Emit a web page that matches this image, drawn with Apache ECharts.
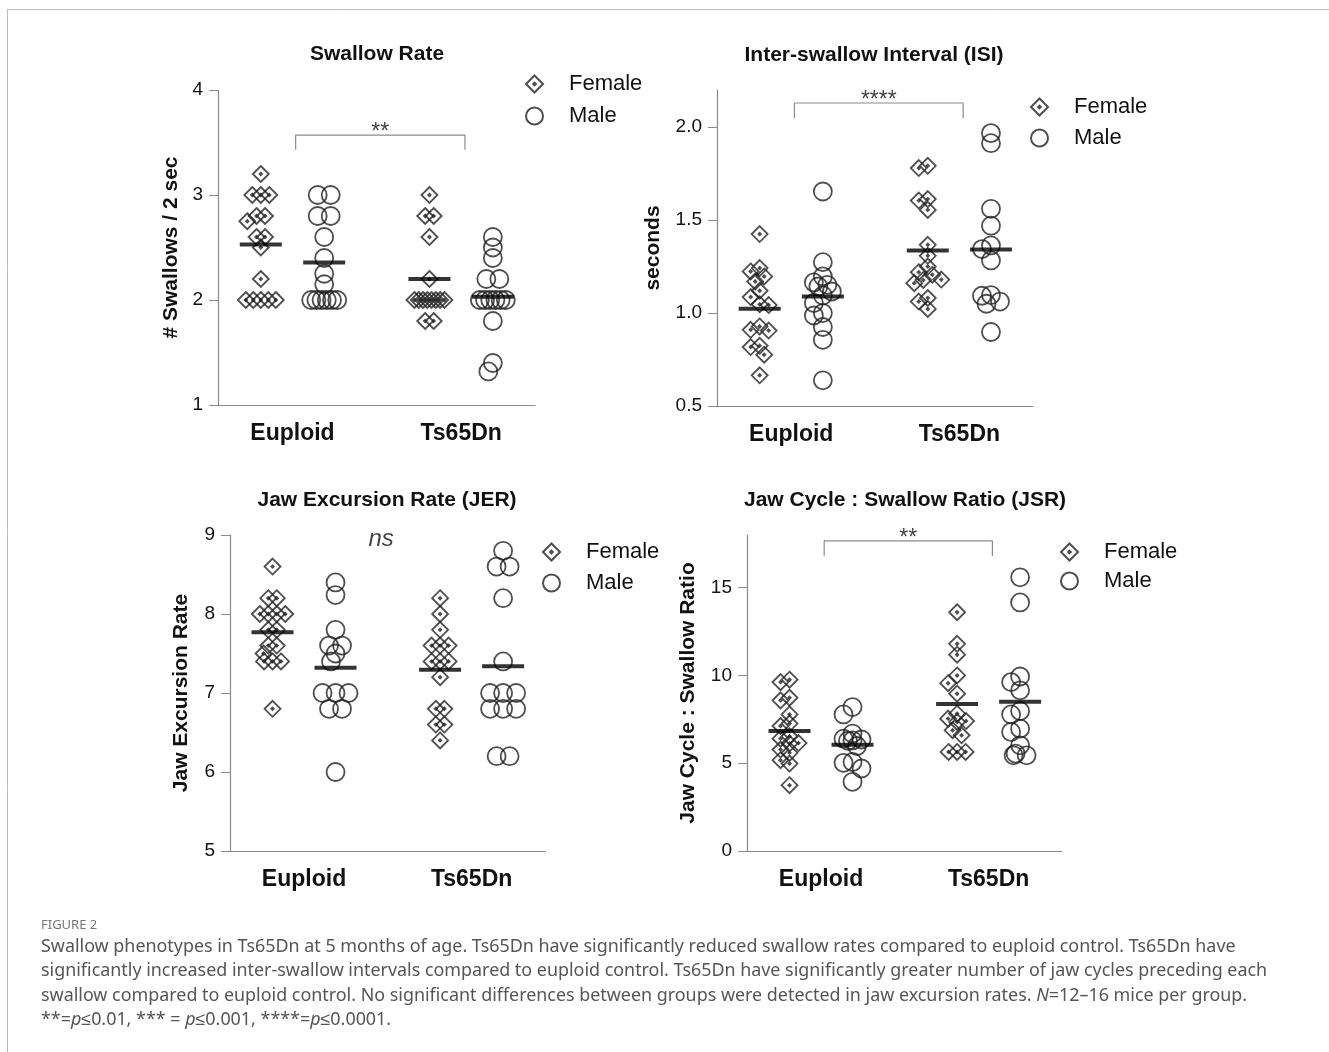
<!DOCTYPE html>
<html>
<head>
<meta charset="utf-8">
<script src="https://cdn.jsdelivr.net/npm/echarts@6/dist/echarts.min.js"></script>
<style>
  html, body { margin: 0; padding: 0; background: #fff; }
  #fig { width: 1329px; height: 1052px; }
</style>
</head>
<body>
<div id="fig"></div>
<script>
// groups shown on every x axis
var groups = ['Euploid', 'Ts65Dn'];

// Swallow Rate (# swallows / 2 sec)
var rateEuF = [3.2, 3.0, 3.0, 3.0, 2.8, 2.8, 2.75, 2.6, 2.6, 2.5, 2.2, 2.0, 2.0, 2.0, 2.0, 2.0];
var rateEuM = [3.0, 3.0, 2.8, 2.8, 2.6, 2.4, 2.25, 2.15, 2.0, 2.0, 2.0, 2.0, 2.0, 2.0];
var rateTsF = [3.0, 2.8, 2.8, 2.6, 2.2, 2.0, 2.0, 2.0, 2.0, 2.0, 2.0, 2.0, 2.0, 1.8, 1.8];
var rateTsM = [2.6, 2.5, 2.4, 2.2, 2.2, 2.0, 2.0, 2.0, 2.0, 2.0, 2.0, 1.8, 1.4, 1.32];
var rateTicks = [1, 2, 3, 4];

// Inter-swallow interval (seconds)
var isiEuF = [1.425, 1.242, 1.224, 1.197, 1.17, 1.12, 1.086, 1.047, 1.043, 0.928, 0.91, 0.906, 0.824, 0.817, 0.776, 0.665];
var isiEuM = [1.654, 1.274, 1.197, 1.165, 1.152, 1.143, 1.116, 1.095, 1.054, 1.0, 0.987, 0.925, 0.856, 0.638];
var isiTsF = [1.792, 1.78, 1.613, 1.605, 1.555, 1.367, 1.308, 1.25, 1.22, 1.206, 1.18, 1.178, 1.161, 1.081, 1.062, 1.022];
var isiTsM = [1.968, 1.914, 1.561, 1.47, 1.364, 1.344, 1.283, 1.097, 1.093, 1.062, 1.05, 0.898];
var isiTicks = [0.5, 1.0, 1.5, 2.0];

// Jaw excursion rate
var jerEuF = [8.6, 8.2, 8.2, 8.0, 8.0, 8.0, 8.0, 7.8, 7.8, 7.6, 7.6, 7.5, 7.4, 7.4, 7.4, 6.8];
var jerEuM = [8.4, 8.24, 7.8, 7.6, 7.6, 7.5, 7.4, 7.0, 7.0, 7.0, 6.8, 6.8, 6.0];
var jerTsF = [8.2, 8.0, 7.8, 7.6, 7.6, 7.6, 7.4, 7.4, 7.4, 7.2, 6.8, 6.8, 6.6, 6.6, 6.4];
var jerTsM = [8.8, 8.6, 8.6, 8.2, 7.4, 7.0, 7.0, 7.0, 6.8, 6.8, 6.8, 6.2, 6.2];
var jerTicks = [5, 6, 7, 8, 9];

// Jaw cycle : swallow ratio
var jsrEuF = [9.76, 9.62, 8.73, 8.58, 7.78, 7.26, 7.12, 6.53, 6.4, 6.15, 6.12, 5.78, 5.59, 5.17, 4.98, 3.75];
var jsrEuM = [8.2, 7.78, 6.69, 6.4, 6.35, 6.3, 6.28, 5.98, 5.07, 5.02, 4.7, 3.94];
var jsrTsF = [13.6, 11.8, 11.18, 10.0, 9.56, 8.96, 7.82, 7.54, 7.4, 7.35, 6.88, 6.59, 5.64, 5.64, 5.64];
var jsrTsM = [15.59, 14.16, 9.94, 9.62, 9.15, 7.97, 7.78, 6.97, 6.78, 6.02, 5.55, 5.45, 5.45];
var jsrTicks = [0, 5, 10, 15];

// layout of the four columns on a 0..10 x axis
var colPos = [1.35, 3.35, 6.67, 8.67];
var labelPos = [2.35, 7.67];
var INK = '#222';
// outlined diamond with a dot in the middle (stroked, not filled)
var DIAMOND = 'path://M0,-10L10,0L0,10L-10,0Z M-1.5,0L0,-1.5L1.5,0L0,1.5Z';

var panels = [
    { title: 'Swallow Rate', tx: 377, ty: 54, yName: '# Swallows / 2 sec', gap: 36,
      box: [218, 90, 317, 315], min: 1, max: 4, ticks: rateTicks, dec: 0,
      data: [rateEuF, rateEuM, rateTsF, rateTsM],
      sig: { text: '**', top: 3.57, drop: 0.14 }, legend: [525, 73, 10] },
    { title: 'Inter-swallow Interval (ISI)', tx: 874, ty: 55, yName: 'seconds', gap: 53,
      box: [717, 90, 316, 316], min: 0.5, max: 2.2, ticks: isiTicks, dec: 1,
      data: [isiEuF, isiEuM, isiTsF, isiTsM],
      sig: { text: '****', top: 2.13, drop: 0.08 }, legend: [1030, 96, 9] },
    { title: 'Jaw Excursion Rate (JER)', tx: 387, ty: 500, yName: 'Jaw Excursion Rate', gap: 38,
      box: [230, 535, 315, 316], min: 5, max: 9, ticks: jerTicks, dec: 0,
      data: [jerEuF, jerEuM, jerTsF, jerTsM],
      ns: { x: 4.8, y: 8.94 }, legend: [542, 541, 9] },
    { title: 'Jaw Cycle : Swallow Ratio (JSR)', tx: 905, ty: 500, yName: 'Jaw Cycle : Swallow Ratio', gap: 48,
      box: [747, 535, 315, 316], min: 0, max: 18, ticks: jsrTicks, dec: 0,
      data: [jsrEuF, jsrEuM, jsrTsF, jsrTsM],
      sig: { text: '**', top: 17.66, drop: 0.85 }, legend: [1060, 541, 7] }
];

function mean(a) {
    var s = 0;
    a.forEach(function (v) { s += v; });
    return s / a.length;
}

// simple beeswarm: tied values share a centred row, others find the nearest free slot
function swarm(vals, pxY, o) {
    var idx = vals.map(function (v, i) { return i; });
    idx.sort(function (a, b) { return vals[b] - vals[a]; });
    var off = [], placed = [];
    for (var i = 0; i < idx.length;) {
        var j = i;
        while (j + 1 < idx.length && vals[idx[j + 1]] === vals[idx[i]]) j++;
        var n = j - i + 1, y = vals[idx[i]] * pxY;
        if (n > 1) {
            var sp = Math.min(o.row, 2 * o.half / (n - 1));
            for (var k = 0; k < n; k++) {
                var x = (k - (n - 1) / 2) * sp;
                off[idx[i + k]] = x;
                placed.push([x, y]);
            }
        } else {
            var best = 0, bestD = -1, found = false;
            for (var s = 0; s * o.gap / 2 <= o.half + 0.01 && !found; s++) {
                var cands = s ? [-s * o.gap / 2, s * o.gap / 2] : [0];
                for (var c = 0; c < cands.length; c++) {
                    var d = Infinity;
                    for (var q = 0; q < placed.length; q++) {
                        d = Math.min(d, Math.hypot(placed[q][0] - cands[c], placed[q][1] - y));
                    }
                    if (d >= o.gap) { best = cands[c]; found = true; break; }
                    if (d > bestD) { bestD = d; best = cands[c]; }
                }
            }
            off[idx[i]] = best;
            placed.push([best, y]);
        }
        i = j + 1;
    }
    return off;
}

var option = {
    animation: false,
    textStyle: { fontFamily: 'Liberation Sans, Arial, sans-serif' },
    grid: [], xAxis: [], yAxis: [], legend: [], series: [], graphic: []
};

panels.forEach(function (p, i) {
    var b = p.box;
    var pxX = b[2] / 10, pxY = b[3] / (p.max - p.min);
    option.grid.push({ left: b[0], top: b[1], width: b[2], height: b[3], outerBoundsMode: 'none' });
    option.xAxis.push({
        type: 'value', gridIndex: i, min: 0, max: 10,
        axisLine: { lineStyle: { color: '#8a8a8a', width: 1.2 } },
        axisTick: { show: false }, splitLine: { show: false },
        axisLabel: {
            customValues: labelPos, margin: 17,
            fontSize: 23, fontWeight: 'bold', color: '#111',
            formatter: function (v) { return v < 5 ? groups[0] : groups[1]; }
        }
    });
    option.yAxis.push({
        type: 'value', gridIndex: i, min: p.min, max: p.max,
        name: p.yName, nameLocation: 'middle', nameRotate: 90, nameGap: p.gap,
        nameTextStyle: { fontSize: 21, fontWeight: 'bold', color: '#111' },
        axisLine: { show: true, lineStyle: { color: '#8a8a8a', width: 1.2 } },
        axisTick: { show: true, length: 9, customValues: p.ticks, lineStyle: { color: '#8a8a8a' } },
        splitLine: { show: false },
        axisLabel: {
            customValues: p.ticks, margin: 15, fontSize: 19, color: '#111',
            formatter: function (v) { return v.toFixed(p.dec); }
        }
    });

    var fem = [], mal = [], means = [];
    p.data.forEach(function (vals, g) {
        var female = g % 2 === 0;
        var off = swarm(vals, pxY, female ? { row: 8.5, half: 15, gap: 9 } : { row: 13, half: 13, gap: 9 });
        vals.forEach(function (v, k) {
            (female ? fem : mal).push([colPos[g] + off[k] / pxX, v]);
        });
        means.push([colPos[g], mean(vals)]);
    });

    option.series.push({
        name: 'Female', type: 'scatter', xAxisIndex: i, yAxisIndex: i,
        symbol: DIAMOND, symbolSize: 16, data: fem,
        itemStyle: { color: 'rgba(0,0,0,0)', borderColor: INK, borderWidth: 1.8 }, z: 3
    });
    option.series.push({
        name: 'Male', type: 'scatter', xAxisIndex: i, yAxisIndex: i,
        symbol: 'circle', symbolSize: 18, data: mal,
        itemStyle: { color: 'rgba(0,0,0,0)', borderColor: INK, borderWidth: 1.8 }, z: 3
    });
    option.series.push({
        name: 'Mean', type: 'scatter', xAxisIndex: i, yAxisIndex: i,
        symbol: 'rect', symbolSize: [42, 4], data: means,
        itemStyle: { color: '#000' }, z: 5, silent: true
    });

    if (p.sig) {
        var x1 = labelPos[0] + 0.1, x2 = labelPos[1] + 0.12;
        option.series.push({
            type: 'line', xAxisIndex: i, yAxisIndex: i, symbol: 'none', silent: true,
            data: [[x1, p.sig.top - p.sig.drop], [x1, p.sig.top], [x2, p.sig.top], [x2, p.sig.top - p.sig.drop]],
            lineStyle: { color: '#8a8a8a', width: 1.2 }
        });
        option.series.push({
            type: 'scatter', xAxisIndex: i, yAxisIndex: i, symbolSize: 1, silent: true,
            data: [[(x1 + x2) / 2, p.sig.top]], itemStyle: { color: 'rgba(0,0,0,0)' },
            label: { show: true, position: 'top', distance: -10, formatter: p.sig.text, fontSize: 23, color: '#111' }
        });
    }
    if (p.ns) {
        option.series.push({
            type: 'scatter', xAxisIndex: i, yAxisIndex: i, symbolSize: 1, silent: true,
            data: [[p.ns.x, p.ns.y]], itemStyle: { color: 'rgba(0,0,0,0)' },
            label: { show: true, position: 'inside', formatter: 'ns', fontSize: 24, fontStyle: 'italic', color: '#111' }
        });
    }

    option.legend.push({
        data: ['Female', 'Male'], orient: 'vertical', selectedMode: false,
        left: p.legend[0], top: p.legend[1], itemGap: p.legend[2], padding: 0,
        itemWidth: 17, itemHeight: 17,
        textStyle: { fontSize: 22, color: '#111', padding: [0, 0, 0, 21] }
    });

    option.graphic.push({
        type: 'text', x: p.tx, y: p.ty,
        style: { text: p.title, align: 'center', verticalAlign: 'middle',
                 font: 'bold 21px "Liberation Sans", Arial, sans-serif', fill: '#111' }
    });
});

// figure frame and caption
option.graphic.push(
    { type: 'line', shape: { x1: 7, y1: 9.5, x2: 1329, y2: 9.5 }, style: { stroke: '#bbb', lineWidth: 1 } },
    { type: 'line', shape: { x1: 7.5, y1: 9, x2: 7.5, y2: 1052 }, style: { stroke: '#bbb', lineWidth: 1 } },
    { type: 'text', x: 41, y: 925, style: { text: 'FIGURE 2', verticalAlign: 'middle',
        font: '13px "Noto Sans", sans-serif', fill: '#777' } }
);
var caption = [
    'Swallow phenotypes in Ts65Dn at 5 months of age. Ts65Dn have significantly reduced swallow rates compared to euploid control. Ts65Dn have',
    'significantly increased inter-swallow intervals compared to euploid control. Ts65Dn have significantly greater number of jaw cycles preceding each',
    'swallow compared to euploid control. No significant differences between groups were detected in jaw excursion rates. {i|N}=12\u201316 mice per group.',
    '**={i|p}\u22640.01, *** = {i|p}\u22640.001, ****={i|p}\u22640.0001.'
];
caption.forEach(function (line, k) {
    option.graphic.push({
        type: 'text', x: 41, y: 947 + k * 24.4,
        style: {
            text: line, verticalAlign: 'middle', fill: '#555',
            font: '17.9px "Noto Sans", sans-serif',
            rich: { i: { fontStyle: 'italic', fontFamily: 'Noto Sans', fontSize: 17.9, fill: '#555' } }
        }
    });
});

var chart = echarts.init(document.getElementById('fig'));
chart.setOption(option);
window.onresize = function () { chart.resize(); };
</script>
</body>
</html>
